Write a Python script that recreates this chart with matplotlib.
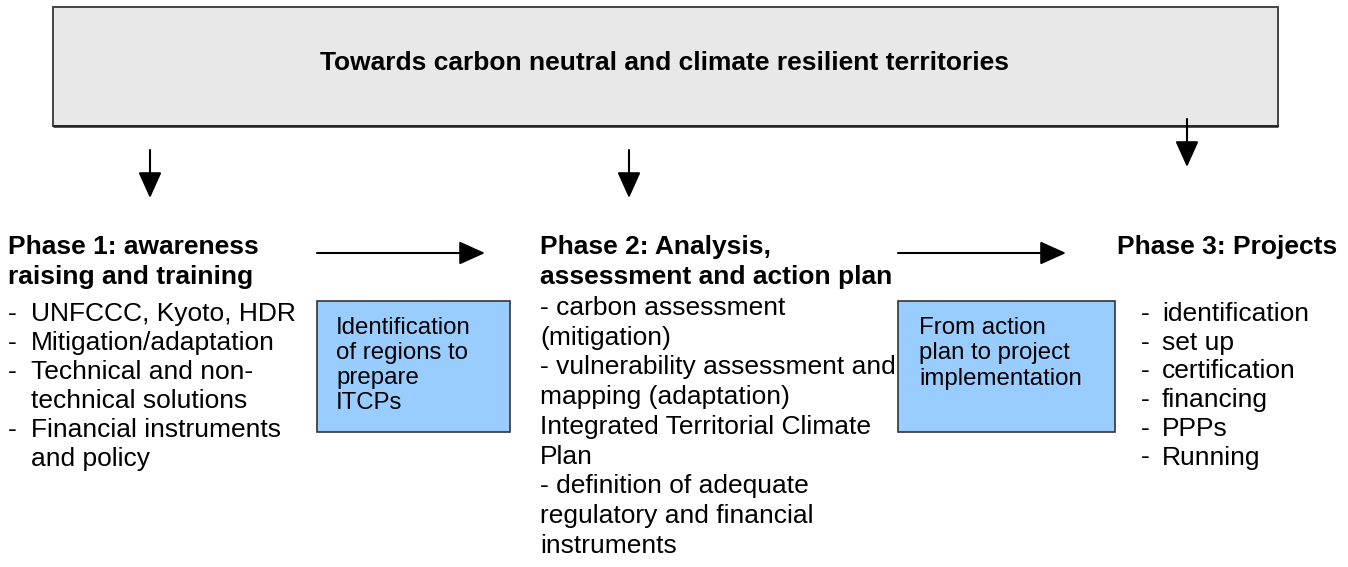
import matplotlib
matplotlib.use("Agg")
import matplotlib.pyplot as plt
from matplotlib.patches import Rectangle

plt.rcParams['font.family'] = ['Liberation Sans', 'DejaVu Sans']

# ---- content ----
title = "Towards carbon neutral and climate resilient territories"
phase1_head = ["Phase 1: awareness", "raising and training"]
phase1_items = [("-", "UNFCCC, Kyoto, HDR"), ("-", "Mitigation/adaptation"),
                ("-", "Technical and non-"), ("", "technical solutions"),
                ("-", "Financial instruments"), ("", "and policy")]
box1_lines = ["Identification", "of regions to", "prepare", "ITCPs"]
phase2_head = ["Phase 2: Analysis,", "assessment and action plan"]
phase2_lines = ["- carbon assessment", "(mitigation)",
                "- vulnerability assessment and", "mapping (adaptation)",
                "Integrated Territorial Climate", "Plan",
                "- definition of adequate", "regulatory and financial",
                "instruments"]
box2_lines = ["From action", "plan to project", "implementation"]
phase3_head = ["Phase 3: Projects"]
phase3_items = ["identification", "set up", "certification", "financing",
                "PPPs", "Running"]

W, H = 1348, 567
fig = plt.figure(figsize=(W / 100, H / 100), dpi=100)
ax = fig.add_axes([0, 0, 1, 1])
ax.set_xlim(0, W)
ax.set_ylim(H, 0)
ax.axis('off')

FS = 19
BOXFS = 17.3
LS = 29.0

# top box
ax.add_patch(Rectangle((53, 7), 1225, 119, facecolor='#e8e8e8',
                       edgecolor='#444444', lw=1.4))
ax.plot([53, 1278], [126, 126], color='#222222', lw=1.8,
        solid_capstyle='butt')
ax.text(665, 63, title, ha='center', va='center', fontsize=FS,
        fontweight='bold', color='black')

def arrow(x0, y0, x1, y1):
    ax.annotate('', xy=(x1, y1), xytext=(x0, y0),
                arrowprops=dict(arrowstyle='-|>,head_length=0.8,head_width=0.36',
                                lw=1.5, color='black', mutation_scale=20,
                                shrinkA=0, shrinkB=0))

# vertical arrows
arrow(150, 150, 150, 198)
arrow(629, 150, 629, 198)
arrow(1187, 119, 1187, 167)
# horizontal arrows
arrow(317, 253, 485, 253)
arrow(898, 253, 1066, 253)

# phase 1
for i, t in enumerate(phase1_head):
    ax.text(8, 254 + i * 30, t, fontsize=FS, fontweight='bold', va='baseline')
for i, (d, t) in enumerate(phase1_items):
    y = 321 + i * LS
    if d:
        ax.text(8, y, d, fontsize=FS, va='baseline')
    ax.text(31, y, t, fontsize=FS, va='baseline')

# box 1
ax.add_patch(Rectangle((317, 301), 193, 131, facecolor='#99ccff',
                       edgecolor='#333333', lw=1.2))
for i, t in enumerate(box1_lines):
    ax.text(336, 334 + i * 25, t, fontsize=BOXFS, va='baseline')

# phase 2
for i, t in enumerate(phase2_head):
    ax.text(540, 254 + i * 30, t, fontsize=FS, fontweight='bold', va='baseline')
for i, t in enumerate(phase2_lines):
    ax.text(540, 315 + i * 29.7, t, fontsize=FS, va='baseline')

# box 2
ax.add_patch(Rectangle((898, 301), 217, 131, facecolor='#99ccff',
                       edgecolor='#333333', lw=1.2))
for i, t in enumerate(box2_lines):
    ax.text(919, 334 + i * 25.5, t, fontsize=BOXFS, va='baseline')

# phase 3
for i, t in enumerate(phase3_head):
    ax.text(1117, 254 + i * 30, t, fontsize=FS, fontweight='bold', va='baseline')
for i, t in enumerate(phase3_items):
    y = 321 + i * 28.7
    ax.text(1141, y, "-", fontsize=FS, va='baseline')
    ax.text(1162, y, t, fontsize=FS, va='baseline')

fig.savefig('out.png', dpi=100)
